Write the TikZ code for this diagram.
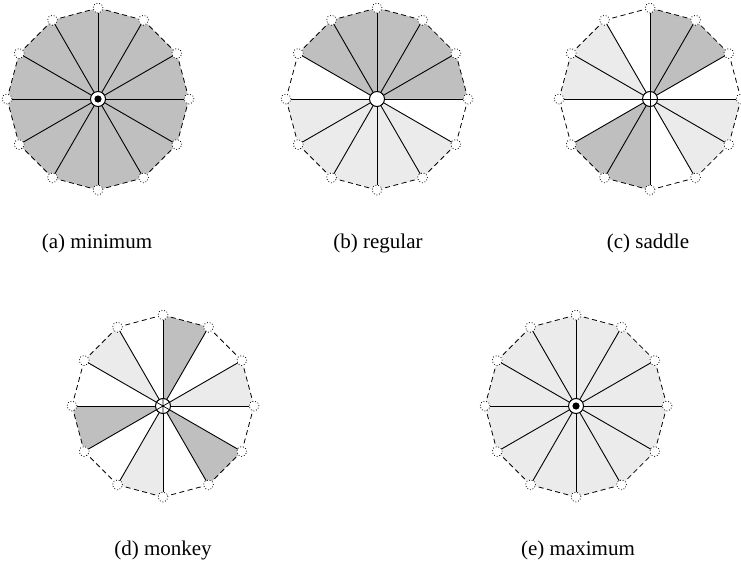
\documentclass[tikz,border=0pt]{standalone}
\usepackage{fontspec}
\setmainfont{Liberation Serif}
\definecolor{darkfill}{gray}{0.75}
\definecolor{lightfill}{gray}{0.92}
\tikzset{
  D/.style={fill=darkfill},
  L/.style={fill=lightfill},
  W/.style={fill=white},
  spoke/.style={line width=0.9pt},
  rim/.style={dash pattern=on 5pt off 3.5pt, line width=0.8pt},
  vert/.style={circle, draw, dotted, fill=white, minimum size=10pt, inner sep=0pt, line width=0.8pt},
  ctr/.style={circle, draw, fill=white, minimum size=15pt, inner sep=0pt, line width=1pt},
  centremark/.style={line width=0.7pt},
  lab/.style={font=\fontsize{21}{25}\selectfont, inner sep=0pt}
}
\newcommand\drawwheel[3]{%
  \coordinate (#1) at (#2);
  \foreach \k in {0,...,11} {\path (#1) ++(\k*30:91) coordinate (#1-\k);}
  \foreach \sc [count=\k from 0] in {#3} {
    \pgfmathtruncatemacro\kk{mod(\k+1,12)}
    \path[\sc] (#1) -- (#1-\k) -- (#1-\kk) -- cycle;
  }
  \foreach \k in {0,...,11} {
    \pgfmathtruncatemacro\kk{mod(\k+1,12)}
    \draw[rim] (#1-\k) -- (#1-\kk);
  }
  \foreach \k in {0,...,11} {\draw[spoke] (#1) -- (#1-\k);}
  \foreach \k in {0,...,11} {\node[vert] (#1-v\k) at (#1-\k) {};}
  \node[ctr] (#1-c) at (#1) {};
}
\begin{document}
\begin{tikzpicture}[x=1pt,y=1pt]
\useasboundingbox (0,0) rectangle (741,563);
% (a) minimum
\drawwheel{a}{98,464}{D,D,D,D,D,D,D,D,D,D,D,D}
\fill (a) circle (3.6pt);
\node[lab] (la) at (97,320) {(a) minimum};
% (b) regular
\drawwheel{b}{377,464}{D,D,D,D,D,W,L,L,L,L,L,W}
\node[lab] (lb) at (378,320) {(b) regular};
% (c) saddle
\drawwheel{c}{650,464}{W,D,D,W,L,L,W,D,D,W,L,L}
\draw[centremark] (c-c.north) -- (c-c.south) (c-c.east) -- (c-c.west);
\node[lab] (lc) at (648,320) {(c) saddle};
% (d) monkey
\drawwheel{d}{163,157}{L,W,D,W,L,W,D,W,L,W,D,W}
\draw[centremark] (d-c.90) -- (d-c.270) (d-c.30) -- (d-c.210) (d-c.150) -- (d-c.330);
\node[lab] (ld) at (163,13) {(d) monkey};
% (e) maximum
\drawwheel{e}{576,157}{L,L,L,L,L,L,L,L,L,L,L,L}
\fill (e) circle (3.6pt);
\node[lab] (le) at (578,13) {(e) maximum};
\end{tikzpicture}
\end{document}
